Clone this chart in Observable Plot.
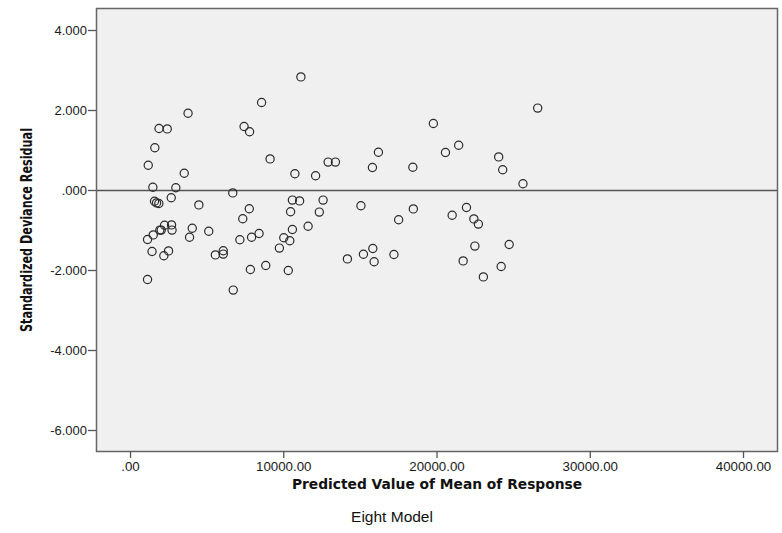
<!DOCTYPE html>
<html>
<head>
<meta charset="utf-8">
<script src="https://cdn.jsdelivr.net/npm/d3@7"></script>
<script src="https://cdn.jsdelivr.net/npm/@observablehq/plot@0.6"></script>
<style>
  html, body { margin: 0; padding: 0; background: #ffffff; }
  #chart svg { display: block; }
</style>
</head>
<body>
<div id="chart"></div>
<script>
// Predicted value of mean of response (x)
const predicted = [
  11118, 8552, 3754, 1861, 2396, 7410, 7769, 1586, 1156, 3506,
  9107, 10726, 12077, 12893, 13370, 16177, 15786, 1456, 2957, 26570,
  19761, 18423, 20551, 21413, 24024, 24285, 25610,
  6672, 1567, 1697, 1847, 2657, 4459, 7749, 7325, 10563,
  11033, 12567, 10445, 12319, 15035, 18455, 17496, 20988, 21922, 22405,
  22699, 22470, 24709, 21706, 24187, 23025, 2220, 2677, 1913, 2004,
  2709, 1482, 1110, 4028, 3852, 5105, 7135, 7899, 8389, 9714,
  10001, 10393, 10563, 11588, 1404, 2174, 2481, 1110, 5536, 6052,
  6052, 7821, 8826, 10295, 6704, 14153, 15198, 15811, 15896, 17189
];
// Standardized deviance residual (y)
const residual = [
  2.84, 2.20, 1.93, 1.55, 1.54, 1.60, 1.47, 1.07, 0.63, 0.43,
  0.79, 0.42, 0.37, 0.71, 0.71, 0.955, 0.575, 0.08, 0.07, 2.06,
  1.675, 0.58, 0.95, 1.13, 0.84, 0.52, 0.17,
  -0.06, -0.27, -0.31, -0.325, -0.18, -0.36, -0.455, -0.705, -0.24,
  -0.26, -0.24, -0.53, -0.54, -0.38, -0.46, -0.73, -0.62, -0.425, -0.71,
  -0.84, -1.39, -1.35, -1.76, -1.90, -2.16, -0.87, -0.86, -0.99, -0.99,
  -0.99, -1.11, -1.225, -0.945, -1.17, -1.02, -1.23, -1.17, -1.075, -1.44,
  -1.18, -1.255, -0.975, -0.895, -1.525, -1.63, -1.51, -2.225, -1.61, -1.59,
  -1.505, -1.975, -1.875, -2.0, -2.49, -1.71, -1.595, -1.45, -1.78, -1.6
];

const xTicks = [0, 10000, 20000, 30000, 40000];
const xTickLabels = [".00", "10000.00", "20000.00", "30000.00", "40000.00"];
const yTicks = [4, 2, 0, -2, -4, -6];
const yTickLabels = ["4.000", "2.000", ".000", "-2.000", "-4.000", "-6.000"];
const referenceLine = [0];

const xTitle = "Predicted Value of Mean of Response";
const yTitle = "Standardized Deviance Residual";
const caption = "Eight Model";

const points = predicted.map((x, i) => ({x, y: residual[i]}));

const tickFont = "'Liberation Sans', Arial, sans-serif";

const chart = Plot.plot({
  width: 782,
  height: 533,
  marginTop: 8,
  marginBottom: 82,
  marginLeft: 96,
  marginRight: 5,
  style: {background: "#ffffff", fontFamily: tickFont, color: "#111"},
  x: {domain: [-2220, 42218]},
  y: {domain: [-6.525, 4.55]},
  marks: [
    Plot.frame({fill: "#f0f0f0", stroke: "none"}),
    Plot.ruleY(referenceLine, {stroke: "#555", strokeWidth: 1.3}),
    Plot.dot(points, {x: "x", y: "y", r: 4.1, stroke: "#2a2a2a", strokeWidth: 1.2, fill: "none"}),
    Plot.frame({stroke: "#666", strokeWidth: 1.5}),
    Plot.axisY({
      ticks: yTicks,
      tickFormat: (d) => yTickLabels[yTicks.indexOf(d)],
      tickSize: 8,
      tickPadding: 1.5,
      fontSize: 13,
      stroke: "#555",
      strokeWidth: 1.3,
      fill: "#1a1a1a",
      label: null
    }),
    Plot.axisX({
      ticks: xTicks,
      tickFormat: (d) => xTickLabels[xTicks.indexOf(d)],
      tickSize: 7,
      tickPadding: 3,
      fontSize: 13.3,
      stroke: "#555",
      strokeWidth: 1.3,
      fill: "#1a1a1a",
      label: null
    }),
    Plot.text([xTitle], {
      frameAnchor: "bottom",
      dy: 37.5,
      text: (d) => d,
      fontFamily: "'DejaVu Sans', Verdana, sans-serif",
      fontWeight: "bold",
      fontSize: 13.8,
      fill: "#111"
    }),
    Plot.text([yTitle], {
      frameAnchor: "left",
      textAnchor: "middle",
      dx: -69,
      rotate: -90,
      text: (d) => d,
      fontFamily: "'Liberation Sans Narrow', 'DejaVu Sans Condensed', 'Arial Narrow', sans-serif",
      fontWeight: "bold",
      fontSize: 15,
      fill: "#111"
    }),
    Plot.text([caption], {
      frameAnchor: "bottom",
      dx: -45,
      dy: 70,
      text: (d) => d,
      fontFamily: tickFont,
      fontSize: 15.5,
      fill: "#111"
    })
  ]
});

// fit the rotated y title to the reference's length
d3.select(chart).selectAll("text").filter(function () { return this.textContent === yTitle; })
  .attr("textLength", 204).attr("lengthAdjust", "spacingAndGlyphs");

document.getElementById("chart").appendChild(chart);
</script>
</body>
</html>
